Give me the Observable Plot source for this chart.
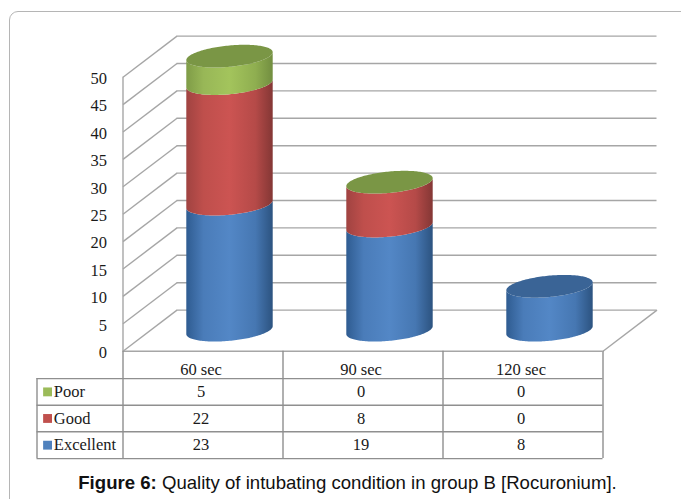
<!DOCTYPE html>
<html>
<head>
<meta charset="utf-8">
<script src="https://cdn.jsdelivr.net/npm/d3@7"></script>
<script src="https://cdn.jsdelivr.net/npm/@observablehq/plot@0.6"></script>
<style>
  html, body { margin: 0; padding: 0; background: #fff; overflow: hidden; width: 681px; height: 499px; }
  #frame { position: absolute; left: 9px; top: 11px; width: 720px; height: 560px; border: 1px solid #b5b5b5; border-radius: 9px; box-sizing: border-box; }
  #chart { position: absolute; left: 0; top: 0; }
  #caption { position: absolute; left: 0; width: 695px; top: 472px; text-align: center; font: 18.6px "Liberation Sans", Arial, sans-serif; color: #111; white-space: nowrap; }
</style>
</head>
<body>
<div id="frame"></div>
<div id="chart"></div>
<div id="caption"><b>Figure 6:</b> Quality of intubating condition in group B [Rocuronium].</div>
<script>
// Data
const categories = ["60 sec", "90 sec", "120 sec"];
const excellent = [23, 19, 8];
const good = [22, 8, 0];
const poor = [5, 0, 0];
const capSeries = ["Poor", "Poor", "Excellent"]; // colour of each cylinder's top face
const seriesNames = ["Excellent", "Good", "Poor"];
const yTicks = d3.range(0, 51, 5);

const valuesBySeries = {Excellent: excellent, Good: good, Poor: poor};
const tableRows = ["Poor", "Good", "Excellent"];
const colors = {Excellent: "#4f81bd", Good: "#c0504d", Poor: "#9bbb59"};
const caps = {Excellent: "#3a6496", Good: "#9a403d", Poor: "#7a9645"};
const ramps = {
  Excellent: ["#2f5c91", "#4a7cb9", "#5387c6", "#4677b2", "#2c5380"],
  Good: ["#a04341", "#bf4f4c", "#cc5452", "#b54a48", "#843735"],
  Poor: ["#7f9c47", "#98b757", "#a3c45c", "#8fae50", "#728e40"]
};

// 3-D projection expressed in scale units
const depthX = 0.3375, depthY = 7.5;      // wall depth
const radius = 0.27, bow = 1.95, tilt = 0.72; // cylinder footprint
const rowLines = [-5, -9.85, -14.7, -19.6];   // table rules below the axis
const tableLeft = -0.5375;
const rowMid = i => (rowLines[i] + rowLines[i + 1]) / 2;

const samples = d3.range(0, 81).map(i => -Math.cos(i / 80 * Math.PI));
const centre = i => i + 0.5 + depthX / 2;
const mid = depthY / 2;
const lower = t => mid - bow * Math.sqrt(Math.max(0, 1 - t * t)) + tilt * t;
const upper = t => mid + bow * Math.sqrt(Math.max(0, 1 - t * t)) + tilt * t;

const cylinderMarks = categories.flatMap((cat, i) => {
  let base = 0;
  const out = [];
  for (const s of seriesNames) {
    const v = valuesBySeries[s][i];
    if (v > 0) {
      const low = base, high = base + v;
      out.push(Plot.areaY(samples, {
        x: t => centre(i) + radius * t,
        y1: t => low + lower(t),
        y2: t => high + lower(t),
        fill: `url(#grad-${s})`,
        curve: "linear"
      }));
    }
    base += v;
  }
  const total = base;
  out.push(Plot.areaY(samples, {
    x: t => centre(i) + radius * t,
    y1: t => total + lower(t),
    y2: t => total + upper(t),
    fill: caps[capSeries[i]],
    curve: "linear"
  }));
  return out;
});

const gradients = () => {
  const defs = d3.create("svg:defs");
  for (const s of seriesNames) {
    const g = defs.append("linearGradient").attr("id", `grad-${s}`).attr("x1", 0).attr("x2", 1).attr("y1", 0).attr("y2", 0);
    const ramp = ramps[s];
    [0, 0.2, 0.5, 0.8, 1].forEach((o, k) => g.append("stop").attr("offset", o).attr("stop-color", ramp[k]));
  }
  return defs.node();
};

const gridColor = "#a6a6a6";
const ser = "'Liberation Serif', 'Times New Roman', serif";
const txt = {fontSize: 16.5, fontFamily: ser, fill: "#1a1a1a"};

const tableCells = tableRows.flatMap((s, r) =>
  categories.map((c, i) => ({x: i + 0.5, y: rowMid(r), label: String(valuesBySeries[s][i])})));

const plot = Plot.plot({
  width: 681,
  height: 465,
  marginLeft: 122.5,
  marginRight: 78.5,
  marginTop: 77,
  marginBottom: 114,
  style: {background: "transparent", overflow: "visible"},
  x: {domain: [0, 3], range: [122.5, 602.5], axis: null},
  y: {domain: [0, 50], range: [350.7, 76.7]},
  marks: [
    gradients,
    // back wall
    Plot.ruleY(yTicks, {x1: depthX, x2: 3 + depthX, y: d => d + depthY, stroke: gridColor, strokeWidth: 1.4}),
    // left wall
    Plot.link(yTicks, {x1: 0, x2: depthX, y1: d => d, y2: d => d + depthY, stroke: gridColor, strokeWidth: 1.4}),
    Plot.ruleX([0], {y1: 0, y2: 50, stroke: gridColor, strokeWidth: 1.4}),
    // floor
    Plot.link([0], {x1: 3, x2: 3 + depthX, y1: 0, y2: depthY, stroke: gridColor, strokeWidth: 1.4}),
    Plot.ruleY([0], {x1: 0, x2: 3, stroke: gridColor, strokeWidth: 1.4}),
    ...cylinderMarks,
    Plot.axisY({ticks: yTicks, tickSize: 0, tickPadding: 16, dy: 1.5, label: null, fontSize: 16.5, fontFamily: ser, fill: "#1a1a1a"}),
    // data table rules
    Plot.ruleY(rowLines, {x1: tableLeft, x2: 3, stroke: "#8f8f8f", strokeWidth: 1.4}),
    Plot.ruleX([0, 1, 2, 3], {y1: 0, y2: rowLines[3], stroke: "#8f8f8f", strokeWidth: 1.4}),
    Plot.ruleX([tableLeft], {y1: rowLines[0], y2: rowLines[3], stroke: "#8f8f8f", strokeWidth: 1.4}),
    // category labels and values
    Plot.text(categories, {x: (d, i) => i + 0.5, y: -3.45, text: d => d, dx: -2, ...txt}),
    Plot.text(tableCells, {x: "x", y: "y", text: "label", dx: -2, ...txt}),
    // legend keys and series names
    Plot.dot(tableRows, {x: tableLeft + 0.066, y: (d, i) => rowMid(i), symbol: "square", r: 5, fill: d => colors[d], stroke: "none"}),
    Plot.text(tableRows, {x: tableLeft + 0.105, y: (d, i) => rowMid(i), text: d => d, textAnchor: "start", ...txt})
  ]
});
document.getElementById("chart").appendChild(plot);
</script>
</body>
</html>
